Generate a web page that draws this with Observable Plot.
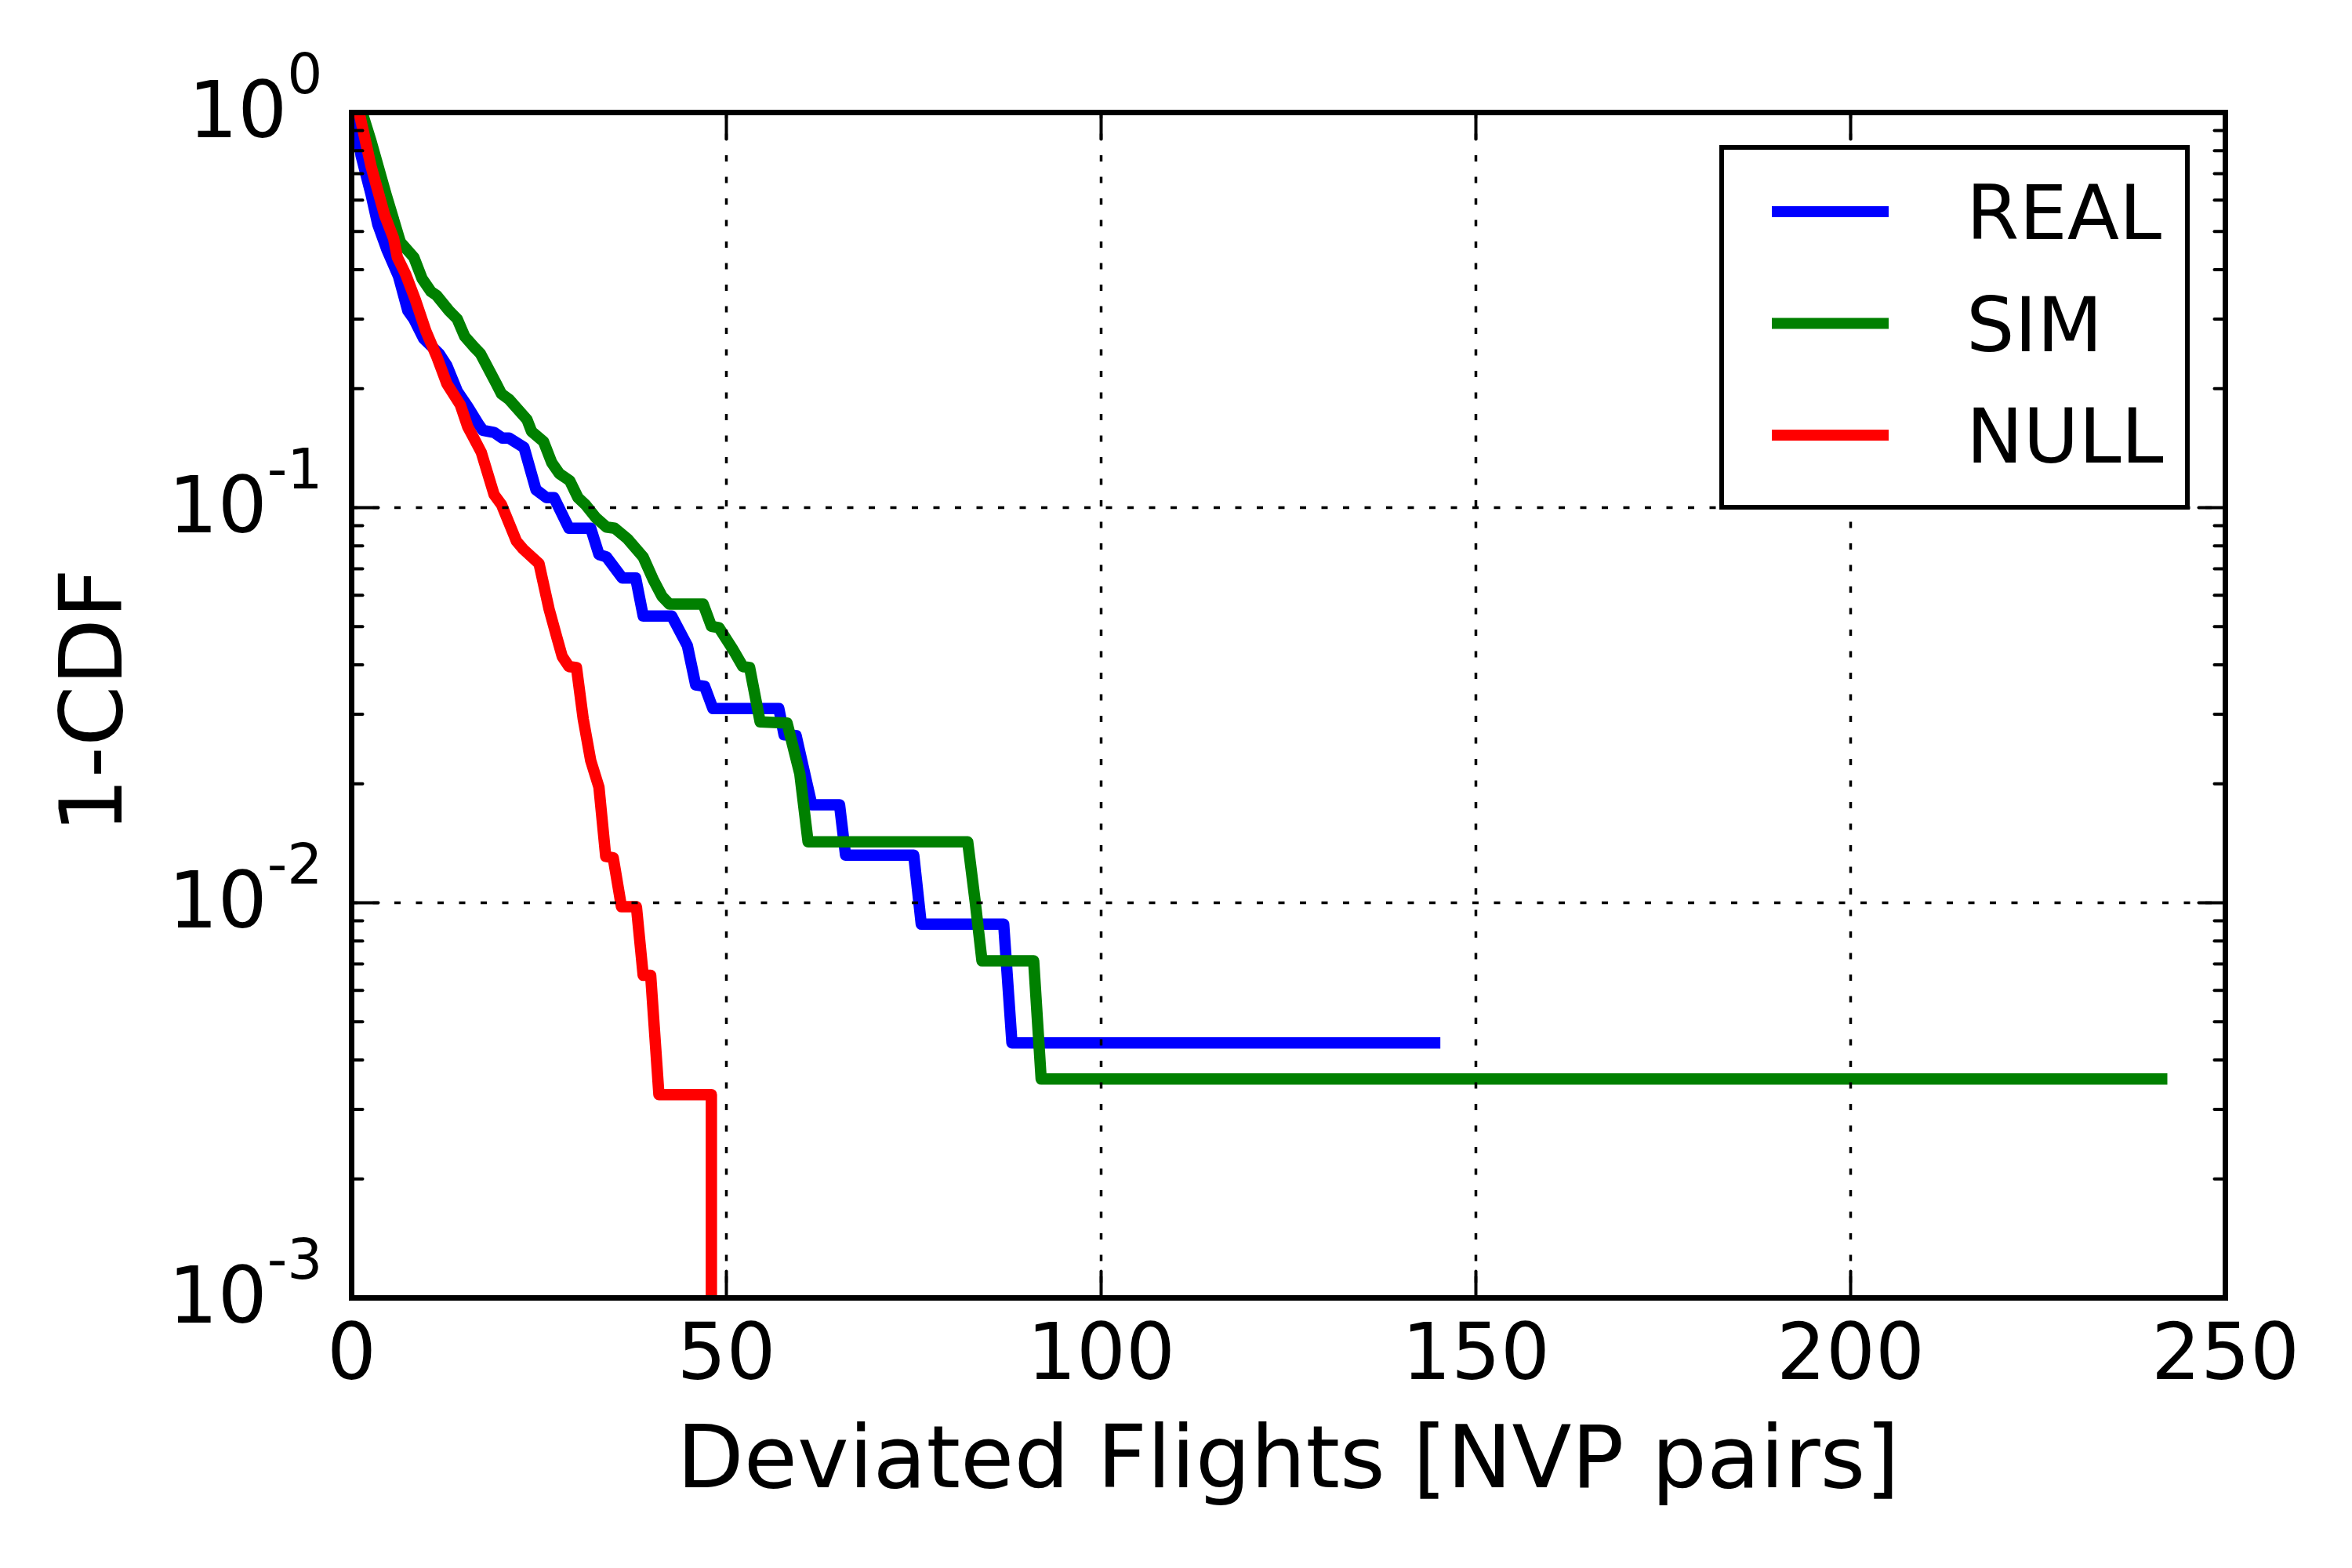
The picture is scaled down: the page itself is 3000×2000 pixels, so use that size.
<!DOCTYPE html>
<html>
<head>
<meta charset="utf-8">
<script src="https://cdn.jsdelivr.net/npm/d3@7"></script>
<script src="https://cdn.jsdelivr.net/npm/@observablehq/plot@0.6"></script>
<style>
  html, body { margin: 0; padding: 0; background: white; }
</style>
</head>
<body>
<div id="chart"></div>
<script>
// ---- Data ----
const seriesNames = ["REAL", "SIM", "NULL"];
const seriesColors = ["#0000ff", "#008000", "#ff0000"];

const realX = [0.5, 1.25, 2.6, 3.5, 4.7, 6.25, 7.5, 8.3, 9.6, 11.7, 12.7, 14.1, 15.5, 16.9, 17.5, 19, 20.1, 21, 23.0, 24.6, 26.0, 27.0, 29.0, 31.9, 33.0, 34.0, 36.1, 37.9, 38.9, 42.7, 44.8, 45.9, 47.1, 48.2, 57.0, 57.7, 59.3, 61.4, 65.1, 65.9, 75.0, 76.0, 87.0, 88.1, 144.5];
const realY = [1.0, 0.78, 0.62, 0.52, 0.45, 0.385, 0.315, 0.30, 0.268, 0.245, 0.229, 0.197, 0.18, 0.163, 0.157, 0.155, 0.150, 0.150, 0.142, 0.111, 0.106, 0.106, 0.0887, 0.0887, 0.0761, 0.075, 0.0664, 0.0664, 0.0532, 0.0532, 0.0447, 0.0356, 0.0353, 0.031, 0.031, 0.0266, 0.0265, 0.0177, 0.0177, 0.0132, 0.0132, 0.00883, 0.00883, 0.00442, 0.00442];

const simX = [1.4, 2.6, 4.6, 6.5, 8.3, 9.4, 10.6, 11.3, 13, 14.1, 15.1, 16.5, 17.2, 19.3, 20, 21, 23.4, 24.0, 25.6, 26.7, 27.7, 29.1, 30.2, 31.2, 32.6, 34.0, 35.1, 36.8, 38.9, 40.3, 41.4, 42.4, 46.9, 48.0, 49.0, 50.8, 52.2, 53.1, 54.5, 58.1, 59.8, 60.9, 82.2, 83.2, 84.1, 91.0, 92.0, 241.5];
const simY = [1.0, 0.845, 0.62, 0.47, 0.43, 0.38, 0.352, 0.345, 0.315, 0.30, 0.271, 0.253, 0.245, 0.206, 0.194, 0.188, 0.167, 0.156, 0.147, 0.130, 0.122, 0.117, 0.106, 0.1017, 0.0942, 0.0893, 0.0887, 0.0834, 0.075, 0.0654, 0.0597, 0.057, 0.057, 0.0501, 0.0497, 0.044, 0.0396, 0.0394, 0.0287, 0.0285, 0.0212, 0.01426, 0.01426, 0.01005, 0.00713, 0.00713, 0.00358, 0.00358];

const nullX = [1.0, 2.6, 4.4, 5.6, 6.1, 7.2, 8.5, 9.9, 11.4, 12.7, 14.5, 15.5, 16.3, 17.3, 19.0, 20.0, 22.0, 22.9, 25.0, 26.35, 27.4, 28.1, 29.0, 30.0, 30.9, 31.9, 33.0, 33.9, 34.9, 36.0, 38.0, 38.9, 39.9, 41.0, 48.0, 48.0];
const nullY = [1.0, 0.73, 0.55, 0.48, 0.43, 0.39, 0.336, 0.28, 0.24, 0.206, 0.182, 0.160, 0.150, 0.138, 0.108, 0.1017, 0.0822, 0.0785, 0.0722, 0.0553, 0.0468, 0.042, 0.0396, 0.0394, 0.0292, 0.0229, 0.0196, 0.0131, 0.013, 0.00977, 0.00977, 0.00655, 0.00655, 0.00327, 0.00327, 0.0009];

const xTicks = [0, 50, 100, 150, 200, 250];
const xGrid = [50, 100, 150, 200];
const yTicks = [1, 0.1, 0.01, 0.001];
const yTickLabels = ["10^0", "10^-1", "10^-2", "10^-3"];
const yGrid = [0.1, 0.01];
const yMinor = [0.002, 0.003, 0.004, 0.005, 0.006, 0.007, 0.008, 0.009,
                0.02, 0.03, 0.04, 0.05, 0.06, 0.07, 0.08, 0.09,
                0.2, 0.3, 0.4, 0.5, 0.6, 0.7, 0.8, 0.9];

const xLabel = "Deviated Flights [NVP pairs]";
const yLabel = "1-CDF";

// ---- Build tables ----
const xs = [realX, simX, nullX];
const ys = [realY, simY, nullY];
const tables = xs.map((arr, i) => arr.map((x, j) => ({series: seriesNames[i], x, y: ys[i][j]})));

// ---- Styles ----
const FONT = "DejaVu Sans";
const tickFont = 99;
const legendFont = 97;
const titleFont = 111;
const lineW = 14.5;
const tickShape = {draw(context, l) { context.moveTo(0, 0); context.lineTo(0, -l); }};
const tickStyle = {stroke: "black", strokeWidth: 4, anchor: "start", shape: tickShape};
const gridStyle = {stroke: "black", strokeOpacity: 1, strokeWidth: 3.5, strokeDasharray: "8,19.5"};

const W = 3000, H = 2000;
const mL = 448, mR = 162, mT = 143, mB = 345;

const svg = Plot.plot({
  width: W,
  height: H,
  marginLeft: mL,
  marginRight: mR,
  marginTop: mT,
  marginBottom: mB,
  style: {fontFamily: FONT, background: "white", overflow: "visible"},
  x: {domain: [0, 250]},
  y: {type: "log", domain: [0.001, 1]},
  marks: [
    ...tables.map((t, i) => Plot.line(t, {
      x: "x", y: "y", stroke: seriesColors[i], strokeWidth: lineW,
      strokeLinejoin: "round", strokeLinecap: "square", clip: true
    })),
    Plot.gridX(xGrid, gridStyle),
    Plot.gridY(yGrid, gridStyle),
    // inward ticks on all four sides
    Plot.vector(xTicks, {x: d => d, frameAnchor: "bottom", rotate: 0, length: 34, ...tickStyle}),
    Plot.vector(xTicks, {x: d => d, frameAnchor: "top", rotate: 180, length: 34, ...tickStyle}),
    Plot.vector(yTicks, {y: d => d, frameAnchor: "left", rotate: 90, length: 34, ...tickStyle}),
    Plot.vector(yTicks, {y: d => d, frameAnchor: "right", rotate: -90, length: 34, ...tickStyle}),
    Plot.vector(yMinor, {y: d => d, frameAnchor: "left", rotate: 90, length: 14, ...tickStyle}),
    Plot.vector(yMinor, {y: d => d, frameAnchor: "right", rotate: -90, length: 14, ...tickStyle}),
    Plot.frame({stroke: "black", strokeWidth: 7}),
    Plot.axisX({ticks: xTicks, tickSize: 0, tickPadding: 33, fontSize: tickFont, label: null, tickFormat: d => String(d)}),
    Plot.axisY({ticks: yTicks, tickSize: 0, tickPadding: 37, fontSize: tickFont, label: null,
      tickFormat: d => yTickLabels[yTicks.indexOf(d)]})
  ]
});

// superscripts for log tick labels
d3.select(svg).selectAll("text").each(function() {
  const t = this.textContent;
  if (/^10\^/.test(t)) {
    const [base, exp] = t.split("^");
    const sel = d3.select(this);
    sel.text(base);
    sel.append("tspan").attr("dy", -56).attr("font-size", 71).text(exp);
  }
});

// axis titles
const root = d3.select(svg);
root.append("text")
  .attr("x", mL + (W - mL - mR) / 2)
  .attr("y", 1897)
  .attr("text-anchor", "middle")
  .attr("font-family", FONT)
  .attr("font-size", titleFont)
  .attr("fill", "black")
  .text(xLabel);
root.append("text")
  .attr("transform", `translate(155, ${mT + (H - mT - mB) / 2 - 5}) rotate(-90)`)
  .attr("text-anchor", "middle")
  .attr("font-family", FONT)
  .attr("font-size", titleFont)
  .attr("fill", "black")
  .text(yLabel);

// legend box
const lg = root.append("g").attr("text-anchor", "start");
lg.append("rect")
  .attr("x", 2196).attr("y", 188).attr("width", 594).attr("height", 459)
  .attr("fill", "white").attr("stroke", "black").attr("stroke-width", 6);
seriesNames.forEach((name, i) => {
  const cy = 270 + i * 142.5;
  lg.append("line")
    .attr("x1", 2260).attr("x2", 2409).attr("y1", cy).attr("y2", cy)
    .attr("stroke", seriesColors[i]).attr("stroke-width", 14);
  lg.append("text")
    .attr("x", 2508).attr("y", cy + 35)
    .attr("text-anchor", "start")
    .attr("font-family", FONT).attr("font-size", legendFont).attr("fill", "black")
    .text(name);
});

document.getElementById("chart").appendChild(svg);
</script>
</body>
</html>
